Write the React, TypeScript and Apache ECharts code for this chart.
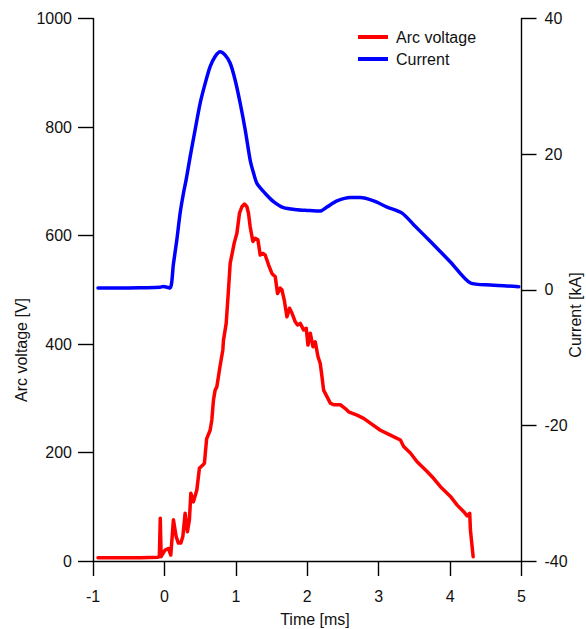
import React, { useEffect, useRef } from "react";
import * as echarts from "echarts";

const voltageTime = [
  -0.93, -0.62, -0.34, -0.089, -0.071, -0.058, -0.046, 0.009, 0.056, 0.089, 0.126, 0.164, 0.196, 0.23, 0.258,
  0.29, 0.322, 0.35, 0.37, 0.406, 0.454, 0.49, 0.538, 0.56, 0.591, 0.64, 0.664, 0.687, 0.71, 0.734,
  0.78, 0.818, 0.827, 0.865, 0.897, 0.921, 0.944, 0.977, 1.015, 1.051, 1.085, 1.121, 1.155, 1.177,
  1.201, 1.239, 1.271, 1.309, 1.341, 1.379, 1.411, 1.458, 1.505, 1.552, 1.584, 1.622, 1.645, 1.678,
  1.716, 1.752, 1.786, 1.832, 1.864, 1.902, 1.948, 1.986, 2.01, 2.042, 2.08, 2.112, 2.15, 2.182,
  2.206, 2.229, 2.276, 2.323, 2.369, 2.463, 2.533, 2.579, 2.697, 2.789, 2.883, 3.024, 3.164, 3.304,
  3.35, 3.444, 3.538, 3.678, 3.771, 3.865, 4.005, 4.099, 4.191, 4.239, 4.275, 4.285, 4.323,
];
const voltageValues = [
  6, 6, 6, 7, 8, 79, 8, 20, 23, 11, 76, 45, 33, 33, 45,
  88, 54, 76, 125, 109, 131, 171, 177, 180, 225, 241, 260, 297, 315, 321,
  360, 389, 407, 438, 500, 549, 564, 586, 604, 641, 653, 658, 653, 641,
  616, 589, 595, 592, 564, 567, 564, 546, 530, 524, 493, 503, 500, 481,
  450, 466, 457, 441, 435, 438, 426, 429, 398, 420, 395, 404, 377, 364,
  340, 315, 303, 291, 288, 288, 281, 275, 269, 263, 254, 241, 232, 223,
  211, 199, 183, 165, 152, 137, 119, 103, 91, 83, 88, 57, 8,
];

const currentTime = [
  -0.93, -0.6, -0.3, -0.061, -0.019, 0.079, 0.126, 0.173, 0.22, 0.266, 0.304, 0.36, 0.43, 0.5, 0.57,
  0.64, 0.71, 0.78, 0.851, 0.921, 0.991, 1.061, 1.131, 1.201, 1.248, 1.295, 1.412, 1.528, 1.668,
  1.856, 1.996, 2.182, 2.276, 2.417, 2.603, 2.743, 2.93, 3.118, 3.328, 3.49, 3.725, 4.005, 4.285,
  4.566, 4.962,
];
const currentValues = [
  0.25, 0.25, 0.3, 0.36, 0.48, 0.26, 3.8, 7.3, 11.3, 14.2, 16.2, 19.6, 23.6, 27.5, 30.4,
  32.9, 34.4, 35.1, 34.6, 33.4, 30.9, 27.5, 23.6, 19.1, 17.2, 15.7, 14.2, 13.0, 12.1,
  11.8, 11.7, 11.6, 12.2, 13.1, 13.6, 13.6, 13.1, 12.2, 11.3, 9.6, 7.1, 4.1, 1.0,
  0.7, 0.45,
];

const seriesNames = ["Arc voltage", "Current"];
const axisNames = ["Time [ms]", "Arc voltage [V]", "Current [kA]"];

const FONT = "Liberation Sans, Arial, sans-serif";
const TEXT = "#111";

export default function App() {
  const ref = useRef<HTMLDivElement>(null);
  useEffect(() => {
    if (!ref.current) return;
    const chart = echarts.init(ref.current, undefined, { renderer: "svg" });
    const axisLine = { show: true, onZero: false, lineStyle: { color: "#000", width: 1.4 } };
    const axisTick = { show: true, inside: false, length: 15, lineStyle: { color: "#000", width: 1.4 } };
    const labelStyle = { color: TEXT, fontSize: 16, fontFamily: FONT };
    const plain = (v: number) => String(v);
    chart.setOption({
      animation: false,
      backgroundColor: "#fff",
      grid: { left: 93, right: 64.5, top: 18.5, bottom: 68, containLabel: false },
      legend: {
        orient: "vertical",
        left: 353,
        top: 24,
        itemWidth: 30,
        itemHeight: 4,
        itemGap: 6,
        icon: "rect",
        data: seriesNames,
        textStyle: { ...labelStyle, padding: [0, 0, 0, 3] },
      },
      xAxis: {
        type: "value",
        min: -1,
        max: 5,
        interval: 1,
        axisLine,
        axisTick,
        splitLine: { show: false },
        axisLabel: { ...labelStyle, margin: 27, formatter: plain },
      },
      yAxis: [
        {
          type: "value",
          min: 0,
          max: 1000,
          interval: 200,
          position: "left",
          axisLine,
          axisTick,
          splitLine: { show: false },
          axisLabel: { ...labelStyle, margin: 21, formatter: plain },
        },
        {
          type: "value",
          min: -40,
          max: 40,
          interval: 20,
          position: "right",
          axisLine,
          axisTick,
          splitLine: { show: false },
          axisLabel: { ...labelStyle, margin: 23, formatter: plain },
        },
      ],
      graphic: [
        {
          type: "text",
          x: 315,
          y: 619,
          style: { text: axisNames[0], fill: TEXT, font: `16px ${FONT}`, textAlign: "center", textVerticalAlign: "middle" },
        },
        {
          type: "text",
          x: 21,
          y: 350,
          rotation: Math.PI / 2,
          style: { text: axisNames[1], fill: TEXT, font: `16px ${FONT}`, textAlign: "center", textVerticalAlign: "middle" },
        },
        {
          type: "text",
          x: 575,
          y: 315,
          rotation: Math.PI / 2,
          style: { text: axisNames[2], fill: TEXT, font: `16px ${FONT}`, textAlign: "center", textVerticalAlign: "middle" },
        },
      ],
      series: [
        {
          name: seriesNames[0],
          type: "line",
          yAxisIndex: 0,
          showSymbol: false,
          symbol: "none",
          color: "#ff0000",
          lineStyle: { width: 3.5, color: "#ff0000", cap: "round", join: "round" },
          data: voltageTime.map((t, i) => [t, voltageValues[i]]),
        },
        {
          name: seriesNames[1],
          type: "line",
          yAxisIndex: 1,
          showSymbol: false,
          symbol: "none",
          smooth: 0.25,
          color: "#0000ff",
          lineStyle: { width: 3.5, color: "#0000ff", cap: "round", join: "round" },
          data: currentTime.map((t, i) => [t, currentValues[i]]),
        },
      ],
    });
    return () => chart.dispose();
  }, []);
  return <div ref={ref} style={{ position: "fixed", left: 0, top: 0, width: 586, height: 629 }} />;
}
